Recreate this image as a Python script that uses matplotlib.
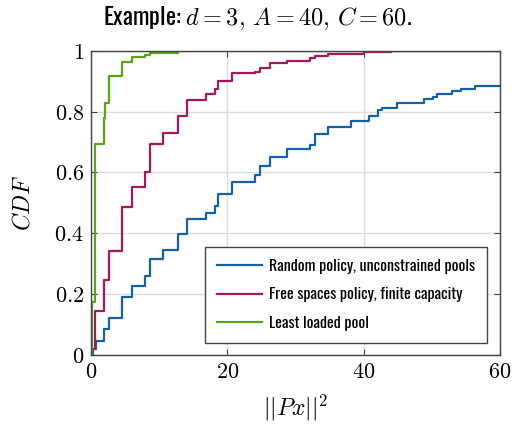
import matplotlib
matplotlib.use('Agg')
import matplotlib.pyplot as plt
from matplotlib.ticker import FuncFormatter

plt.rcParams['mathtext.fontset'] = 'cm'
NARROW = ['Oswald', 'DejaVu Sans']

# ---------------------------------------------------------------------------
# Data (step positions and CDF levels)
# ---------------------------------------------------------------------------
rand_x = [0.0, 0.35, 0.8, 1.9, 2.6, 4.6, 6.0, 7.9, 8.7, 10.6, 12.75, 14.1,
          16.8, 18.2, 18.7, 20.7, 24.0, 24.85, 26.2, 28.7, 32.1, 32.8, 34.8,
          38.1, 40.8, 42.1, 42.7, 44.85, 48.8, 50.2, 50.8, 52.9, 54.3, 56.3, 60.0]
rand_y = [0.0, 0.02, 0.046, 0.085, 0.122, 0.19, 0.226, 0.258, 0.316, 0.345,
          0.398, 0.446, 0.468, 0.49, 0.53, 0.57, 0.592, 0.62, 0.652, 0.677,
          0.69, 0.726, 0.749, 0.77, 0.786, 0.804, 0.811, 0.828, 0.841, 0.849,
          0.858, 0.869, 0.875, 0.886, 0.886]

free_x = [0.0, 0.1, 0.6, 1.9, 2.6, 4.6, 6.0, 7.9, 8.7, 10.6, 12.75, 14.1,
          16.8, 18.2, 18.7, 20.7, 24.0, 24.85, 26.2, 28.7, 32.1, 32.8, 34.8,
          40.0, 44.0, 60.0]
free_y = [0.0, 0.02, 0.143, 0.245, 0.34, 0.488, 0.552, 0.6, 0.693, 0.729,
          0.787, 0.837, 0.857, 0.874, 0.902, 0.927, 0.932, 0.945, 0.959, 0.968,
          0.976, 0.984, 0.989, 0.995, 1.0, 1.0]

least_x = [0.0, 0.1, 0.6, 1.9, 2.1, 2.6, 4.6, 6.0, 7.9, 8.7, 12.75, 60.0]
least_y = [0.0, 0.175, 0.694, 0.78, 0.83, 0.918, 0.965, 0.979, 0.986, 0.993,
           1.0, 1.0]

labels = ['Random policy, unconstrained pools',
          'Free spaces policy, finite capacity',
          'Least loaded pool']
colors = ['#1660a8', '#a3195b', '#5ba319']

fig = plt.figure(figsize=(5.14, 4.28), dpi=100)
ax = fig.add_axes([0.177, 0.171, 0.796, 0.71])

series = [(rand_x, rand_y), (free_x, free_y), (least_x, least_y)]
for (xs, ys), lab, col in zip(series, labels, colors):
    ax.step(xs, ys, where='post', color=col, lw=1.6, label=lab)

ax.set_xlim(0, 60)
ax.set_ylim(0, 1)
ax.set_xticks([0, 20, 40, 60])
ax.set_yticks([0, 0.2, 0.4, 0.6, 0.8, 1.0])
fmt = FuncFormatter(lambda v, p: '$%g$' % round(v, 2))
ax.xaxis.set_major_formatter(fmt)
ax.yaxis.set_major_formatter(fmt)
ax.tick_params(direction='in', length=4, width=0.8, color='#444444',
               labelsize=16, top=True, right=True, pad=5)
ax.grid(True, color='#dddddd', lw=1.0)
ax.set_axisbelow(True)
for s in ax.spines.values():
    s.set_color('#444444')
    s.set_linewidth(1.0)

ax.set_xlabel(r'$||Px||^2$', fontsize=17, labelpad=8)
ax.set_ylabel(r'$CDF$', fontsize=17, labelpad=14)

fig.text(0.5, 0.957, r'Example: $d=3,\, A=40,\, C=60$.', ha='center',
         va='center', fontsize=17.5, family=NARROW)

leg = ax.legend(loc='lower right', bbox_to_anchor=(0.968, 0.039),
                borderaxespad=0, prop={'family': NARROW, 'size': 11.5},
                frameon=True, fancybox=False, framealpha=1,
                edgecolor='#444444', handlelength=2.8, handletextpad=0.45,
                borderpad=0.75, labelspacing=0.85)
leg.get_frame().set_linewidth(1.0)

fig.savefig('out.png', dpi=100)
